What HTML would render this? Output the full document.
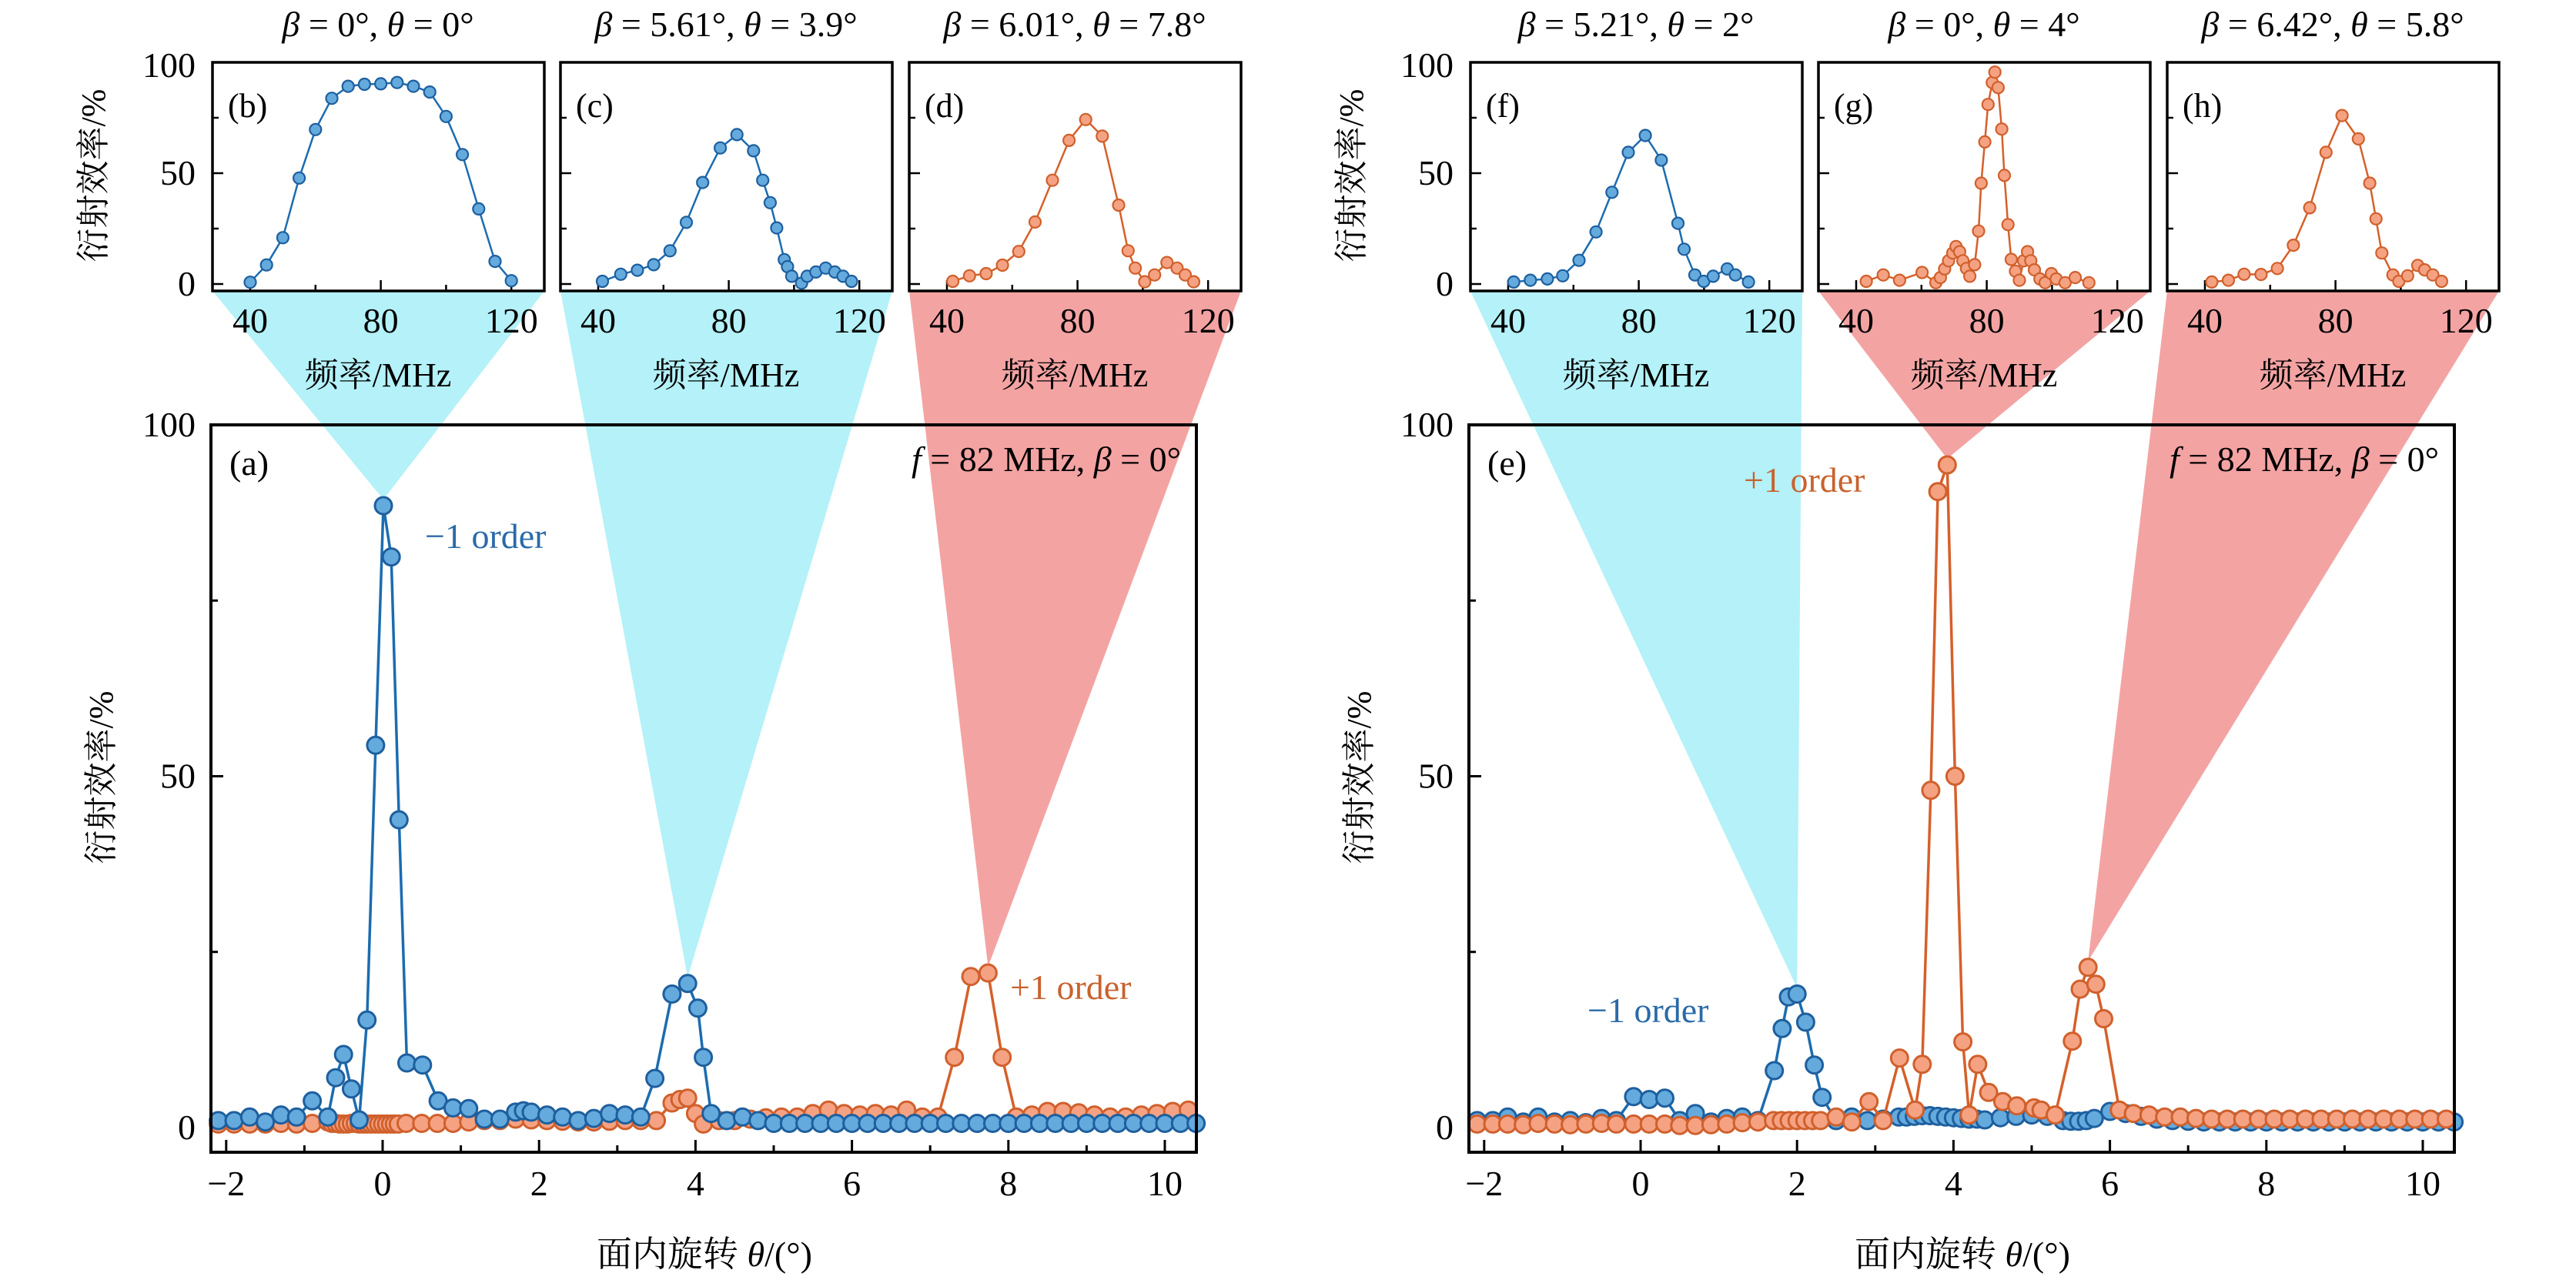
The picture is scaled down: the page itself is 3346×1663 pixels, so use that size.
<!DOCTYPE html>
<html><head><meta charset="utf-8">
<style>
html,body{margin:0;padding:0;background:#fff;}
svg{display:block;}
text{font-family:"Liberation Serif","Noto Serif CJK SC",serif;}
</style></head>
<body>
<svg id="fig" width="3346" height="1663" viewBox="0 0 3346 1663" xmlns="http://www.w3.org/2000/svg"></svg>
<script>
// ---------------- DATA ----------------
const aBlueX=[-2.1,-1.9,-1.7,-1.5,-1.3,-1.1,-0.9,-0.7,-0.6,-0.5,-0.4,-0.3,-0.2,-0.09,0.01,0.11,0.21,0.31,0.51,0.71,0.9,1.1,1.3,1.5,1.7,1.8,1.9,2.1,2.3,2.5,2.7,2.9,3.1,3.3,3.48,3.7,3.9,4.03,4.1,4.2,4.4,4.6,4.8,5.0,5.2,5.4,5.6,5.8,6.0,6.2,6.4,6.6,6.8,7.0,7.2,7.4,7.6,7.8,8.0,8.2,8.4,8.6,8.8,9.0,9.2,9.4,9.6,9.8,10.0,10.2,10.4];
const aBlueY=[1,1,1.5,0.8,1.8,1.5,3.8,1.5,7.1,10.4,5.5,1.1,15.3,54.4,88.5,81.2,43.8,9.2,8.9,3.8,2.8,2.7,1.2,1.2,2.2,2.4,2.2,1.8,1.5,1,1.3,2,1.8,1.5,7,19,20.5,17,10,2,1,1.5,1,0.6,0.6,0.6,0.6,0.6,0.6,0.6,0.6,0.6,0.6,0.6,0.6,0.6,0.6,0.6,0.6,0.6,0.6,0.6,0.6,0.6,0.6,0.6,0.6,0.6,0.6,0.6,0.6];
const aOrangeX=[-2.1,-1.9,-1.7,-1.5,-1.3,-1.1,-0.9,-0.7,-0.65,-0.6,-0.55,-0.5,-0.45,-0.4,-0.35,-0.3,-0.25,-0.2,-0.15,-0.1,-0.05,0,0.05,0.1,0.15,0.2,0.3,0.5,0.7,0.9,1.1,1.3,1.5,1.7,1.9,2.1,2.3,2.5,2.7,2.9,3.1,3.3,3.5,3.7,3.8,3.9,4.0,4.1,4.3,4.5,4.7,4.9,5.1,5.3,5.5,5.7,5.9,6.1,6.3,6.5,6.7,6.9,7.1,7.31,7.52,7.74,7.92,8.1,8.3,8.5,8.7,8.9,9.1,9.3,9.5,9.7,9.9,10.1,10.3];
const aOrangeY=[0.5,0.5,0.5,0.5,0.6,0.5,0.6,0.8,0.6,0.6,0.5,0.5,0.5,0.6,0.6,0.5,0.5,0.5,0.5,0.5,0.5,0.5,0.5,0.5,0.5,0.5,0.6,0.6,0.6,0.6,0.8,1,1,1.2,1.1,1,0.9,0.8,0.8,0.9,1,1,1,3.5,4,4.2,2,0.5,1,1,1.2,1.4,1.5,1.5,2,2.5,2,1.8,2,1.8,2.5,1.5,1.5,10,21.5,22,10,1.5,1.8,2.3,2.3,2.1,1.8,1.5,1.5,1.8,2,2.3,2.5];
const eBlueX=[-2.09,-1.89,-1.7,-1.5,-1.31,-1.1,-0.9,-0.7,-0.5,-0.31,-0.09,0.11,0.31,0.5,0.7,0.9,1.1,1.3,1.5,1.71,1.81,1.89,2.0,2.11,2.22,2.32,2.5,2.7,2.9,3.1,3.3,3.4,3.5,3.6,3.7,3.8,3.9,4.0,4.1,4.2,4.3,4.4,4.6,4.8,5.0,5.2,5.4,5.5,5.6,5.7,5.8,6.0,6.2,6.4,6.6,6.8,7.0,7.2,7.4,7.6,7.8,8.0,8.2,8.4,8.6,8.8,9.0,9.2,9.4,9.6,9.8,10.0,10.2,10.4];
const eBlueY=[1,1,1.5,0.8,1.5,0.8,1,0.7,1.3,1,4.4,4,4.2,1,2,0.8,1.3,1.5,1,8.1,14.1,18.6,19,15,8.9,4.3,1,1.5,1,1.2,1.5,1.5,1.6,1.7,1.7,1.6,1.5,1.4,1.3,1.2,1.2,1.1,1.4,1.6,1.8,1.6,1,0.9,0.9,1,1.3,2.3,2,1.6,1.2,1,0.9,0.8,0.8,0.8,0.8,0.8,0.8,0.8,0.8,0.8,0.8,0.8,0.8,0.8,0.8,0.8,0.8,0.8];
const eOrangeX=[-2.09,-1.89,-1.7,-1.5,-1.31,-1.1,-0.9,-0.7,-0.5,-0.31,-0.09,0.11,0.31,0.5,0.7,0.9,1.1,1.3,1.5,1.7,1.8,1.9,2.0,2.1,2.2,2.3,2.5,2.7,2.92,3.1,3.31,3.51,3.6,3.71,3.8,3.92,4.02,4.12,4.2,4.31,4.45,4.63,4.81,5.03,5.12,5.3,5.52,5.62,5.72,5.82,5.92,6.12,6.3,6.5,6.7,6.9,7.1,7.3,7.5,7.7,7.9,8.1,8.3,8.5,8.7,8.9,9.1,9.3,9.5,9.7,9.9,10.1,10.3];
const eOrangeY=[0.5,0.5,0.5,0.4,0.6,0.5,0.4,0.5,0.6,0.5,0.5,0.5,0.5,0.3,0.3,0.4,0.5,0.7,0.8,1,1,1,1,1,1,1,1.5,0.8,3.7,1,9.9,2.5,9,48,90.5,94.3,50,12.2,1.8,9,5,3.7,3.1,2.8,2.5,1.8,12.3,19.7,22.8,20.4,15.5,2.5,2,1.8,1.5,1.5,1.3,1.2,1.2,1.2,1.2,1.2,1.2,1.2,1.2,1.2,1.2,1.2,1.2,1.2,1.2,1.2,1.2];
const bX=[40,45,50,55,60,65,70,75,80,85,90,95,100,105,110,115,120];
const bY=[0.8,8.6,20.9,47.8,69.7,83.8,89.2,90.1,90.3,90.9,89.2,86.6,75.6,58.4,33.9,10.2,1.5];
const cX=[41.3,46.9,52,57,62,67,72,77.4,82.5,87.6,90.4,92.7,94.7,97,98,99.3,102.3,104,106.7,109.7,112.5,115,117.6];
const cY=[1.2,4.4,6.2,8.7,15,27.8,45.8,61.4,67.4,60.1,46.8,36.7,25.3,11,7.8,3.5,0.4,3.5,5.4,7.2,5.4,3.5,1.2];
const dX=[41.8,46.9,52,57,62,67,72.3,77.4,82.5,87.6,92.6,95.5,97.7,100.6,103.6,107.4,110.5,113,115.6];
const dY=[1.2,3.7,4.7,8.5,14.7,28,46.8,64.8,74.2,66.7,35.6,15,7.2,1,4.1,9.7,7.2,4.1,1];
const fX=[41.7,46.8,52,56.7,61.7,66.9,71.8,76.8,82,86.9,92,93.9,97.2,99.9,102.8,107.1,109.6,113.6];
const fY=[0.9,1.7,2.3,3.7,10.7,23.5,41.4,59.4,67,55.9,27.4,15.7,4.1,1.2,3.5,6.8,4.1,0.9];
const gX=[43.1,48.3,53.3,60.2,64.4,65.8,67.1,68.3,69.6,70.6,71.7,72.7,73.8,74.8,76.3,77.5,78.3,79.4,80.4,81.7,82.5,83.5,84.6,85.4,86.5,87.5,88.8,90,91.3,92.5,93.5,94.6,96.3,97.9,99.8,101.3,104,107.1,111.3];
const gY=[1.2,4.1,1.7,5.2,0.6,2.9,6.8,10.5,14,16.9,14.6,10.5,7,3.5,8.7,23.9,45.5,64.1,81,90.9,95.6,88.6,69.9,49,26.8,11.1,5.8,1.7,10.5,14.6,10.5,6.4,2.3,0.6,4.7,2.3,0.6,2.9,0.6];
const hX=[42.1,47.2,52,57.2,62.2,67.1,72.1,77.1,82,87,90.5,92.4,94.2,97.6,99.4,102.1,105.2,107.3,109.8,112.5];
const hY=[0.9,1.7,4.4,4.3,7,17.5,34.4,59.4,76,65.5,45.5,29.4,14,4.1,1.2,3.7,8.4,6.4,4.1,1.2];
const mainXTicks=[-2,-1,0,1,2,3,4,5,6,7,8,9,10];
const mainXTickLabels=["\u22122","","0","","2","","4","","6","","8","","10"];
const yTicks=[0,25,50,75,100];
const yTickLabels=["0","","50","","100"];
const insetXTicks=[40,60,80,100,120];
const insetXTickLabels=["40","","80","","120"];

// ---------------- HELPERS ----------------
const NS="http://www.w3.org/2000/svg";
const svg=document.getElementById('fig');
function mk(tag,attrs,parent){const e=document.createElementNS(NS,tag);for(const k in attrs)e.setAttribute(k,attrs[k]);(parent||svg).appendChild(e);return e;}
const BLUE_LINE="#1b6cb0",BLUE_FILL="#64aadd",BLUE_EDGE="#1e5f9e";
const OR_LINE="#d5602a",OR_FILL="#f5a283",OR_EDGE="#d0602c";
const BLUE_TEXT="#2a6aa8",OR_TEXT="#c8622e";
const CYAN="#b4f1f8",PINK="#f4a3a3";

function mainScales(off){
  const x0=274+off,x1=1554+off;
  return {x0,x1,y0:552,y1:1497,
    sx:v=>497+off+(v)*101.6,
    sy:v=>1465-v*9.13};
}
function insetScales(left){
  return {x0:left,x1:left+431,y0:81,y1:378,
    sx:v=>left+49+(v-40)*4.24,
    sy:v=>369-v*2.88};
}

const layerShade=mk('g',{});


const layerMain=mk('g',{});



function drawSeries(g,sc,xs,ys,lineC,fillC,edgeC,r,lw,name){
  const sg=mk('g',{},g);
  
  
  let d='';
  for(let i=0;i<xs.length;i++){d+=(i?'L':'M')+sc.sx(xs[i]).toFixed(1)+' '+sc.sy(ys[i]).toFixed(1);}
  const p=mk('path',{d:d,fill:'none',stroke:lineC,'stroke-width':lw,'stroke-linejoin':'round'},sg);
  
  
  for(let i=0;i<xs.length;i++){
    const c=mk('circle',{cx:sc.sx(xs[i]).toFixed(1),cy:sc.sy(ys[i]).toFixed(1),r:r,fill:fillC,stroke:edgeC,'stroke-width':r>8?3:2.2},sg);
    
    
  }
}

function drawMain(off,label,series,ann,name){
  const sc=mainScales(off);
  const g=mk('g',{},layerMain);
  
  
  mainXTicks.forEach((t,i)=>{
    const x=sc.sx(t);const major=mainXTickLabels[i]!=='';
    const tk=mk('line',{x1:x,x2:x,y1:sc.y1,y2:sc.y1-(major?16:9),stroke:'#000','stroke-width':3},g);
    
    
    if(major){const tl=mk('text',{x:x,y:1553,'font-size':46,'text-anchor':'middle',fill:'#000'},g);tl.textContent=mainXTickLabels[i];
      
      }
  });
  yTicks.forEach((t,i)=>{
    const y=sc.sy(t);const major=yTickLabels[i]!=='';
    const tk=mk('line',{x1:sc.x0,x2:sc.x0+(major?16:9),y1:y,y2:y,stroke:'#000','stroke-width':3},g);
    
    
    if(major){const tl=mk('text',{x:sc.x0-20,y:(t===100?552:y)+15,'font-size':46,'text-anchor':'end',fill:'#000'},g);tl.textContent=yTickLabels[i];
      
      }
  });
  series.forEach(s=>drawSeries(g,sc,s[0],s[1],s[2],s[3],s[4],11,3.5,s[5]));
  const fr=mk('rect',{x:sc.x0,y:sc.y0,width:sc.x1-sc.x0,height:sc.y1-sc.y0,fill:'none',stroke:'#000','stroke-width':4},g);
  
  
  const pl=mk('text',{x:sc.x0+24,y:617,'font-size':46,fill:'#000'},g);pl.textContent=label;
  
  
  const cond=mk('text',{x:sc.x1-20,y:612,'font-size':46,'text-anchor':'end',fill:'#000'},g);
  cond.innerHTML='<tspan font-style="italic">f</tspan> = 82 MHz, <tspan font-style="italic">β</tspan> = 0°';
  
  
  ann.forEach(a=>{const t=mk('text',{x:a[0],y:a[1],'font-size':46,fill:a[3],style:'fill:'+a[3]},g);t.textContent=a[2];
    
    });
  const yl=mk('text',{x:0,y:0,'font-size':44,'text-anchor':'middle',fill:'#000',transform:'translate('+(146+off)+',1010) rotate(-90)'},g);
  yl.textContent='衍射效率/%';
  
  
  const xl=mk('text',{x:915+off,y:1645,'font-size':46,'text-anchor':'middle',fill:'#000'},g);
  xl.innerHTML='面内旋转 <tspan font-style="italic">θ</tspan>/(°)';
  
  
  return sc;
}

function drawInset(left,label,title,xs,ys,isBlue,withYLabel,name){
  const sc=insetScales(left);
  const g=mk('g',{},layerMain);
  
  
  insetXTicks.forEach((t,i)=>{
    const x=sc.sx(t);const major=insetXTickLabels[i]!=='';
    const tk=mk('line',{x1:x,x2:x,y1:sc.y1,y2:sc.y1-(major?14:8),stroke:'#000','stroke-width':2.5},g);
    
    
    if(major){const tl=mk('text',{x:x,y:432,'font-size':46,'text-anchor':'middle',fill:'#000'},g);tl.textContent=insetXTickLabels[i];
      
      }
  });
  yTicks.forEach((t,i)=>{
    const y=sc.sy(t);const major=yTickLabels[i]!=='';
    const tk=mk('line',{x1:sc.x0,x2:sc.x0+(major?14:8),y1:y,y2:y,stroke:'#000','stroke-width':2.5},g);
    
    
    if(withYLabel&&major){const tl=mk('text',{x:sc.x0-22,y:(t===100?85:y)+15,'font-size':46,'text-anchor':'end',fill:'#000'},g);tl.textContent=yTickLabels[i];
      
      }
  });
  drawSeries(g,sc,xs,ys,isBlue?BLUE_LINE:OR_LINE,isBlue?BLUE_FILL:OR_FILL,isBlue?BLUE_EDGE:OR_EDGE,7.5,2.5,name+'-series');
  const fr=mk('rect',{x:sc.x0,y:sc.y0,width:sc.x1-sc.x0,height:sc.y1-sc.y0,fill:'none',stroke:'#000','stroke-width':3.5},g);
  
  
  const pl=mk('text',{x:sc.x0+20,y:152,'font-size':44,fill:'#000'},g);pl.textContent=label;
  
  
  const tt=mk('text',{x:sc.x0+215,y:47,'font-size':46,'text-anchor':'middle',fill:'#000'},g);
  tt.innerHTML=title;
  
  
  const xl=mk('text',{x:sc.x0+215,y:502,'font-size':44,'text-anchor':'middle',fill:'#000'},g);
  xl.textContent='频率/MHz';
  
  
  if(withYLabel){
    const yl=mk('text',{x:0,y:0,'font-size':44,'text-anchor':'middle',fill:'#000',transform:'translate('+(sc.x0-140)+',228) rotate(-90)'},g);
    yl.textContent='衍射效率/%';
    
    
  }
  return sc;
}

function shade(inset,main,ax,ay,color,name){
  const p=mk('polygon',{points:[inset.x0,inset.y1,inset.x1,inset.y1,main.sx(ax),main.sy(ay)-8].join(' '),fill:color},layerShade);
  
  
}

// ---------------- BUILD ----------------
const mA=drawMain(0,'(a)',[
  [aOrangeX,aOrangeY,OR_LINE,OR_FILL,OR_EDGE,'plus1-order-series-a'],
  [aBlueX,aBlueY,BLUE_LINE,BLUE_FILL,BLUE_EDGE,'minus1-order-series-a']],
  [[552,712,'\u22121 order',BLUE_TEXT],[1312,1298,'+1 order',OR_TEXT]],'panel-a');
const mE=drawMain(1634,'(e)',[
  [eBlueX,eBlueY,BLUE_LINE,BLUE_FILL,BLUE_EDGE,'minus1-order-series-e'],
  [eOrangeX,eOrangeY,OR_LINE,OR_FILL,OR_EDGE,'plus1-order-series-e']],
  [[2062,1328,'\u22121 order',BLUE_TEXT],[2265,639,'+1 order',OR_TEXT]],'panel-e');

const iB=drawInset(276,'(b)','<tspan font-style="italic">β</tspan> = 0°, <tspan font-style="italic">θ</tspan> = 0°',bX,bY,true,true,'inset-b');
const iC=drawInset(728,'(c)','<tspan font-style="italic">β</tspan> = 5.61°, <tspan font-style="italic">θ</tspan> = 3.9°',cX,cY,true,false,'inset-c');
const iD=drawInset(1181,'(d)','<tspan font-style="italic">β</tspan> = 6.01°, <tspan font-style="italic">θ</tspan> = 7.8°',dX,dY,false,false,'inset-d');
const iF=drawInset(1910,'(f)','<tspan font-style="italic">β</tspan> = 5.21°, <tspan font-style="italic">θ</tspan> = 2°',fX,fY,true,true,'inset-f');
const iG=drawInset(2362,'(g)','<tspan font-style="italic">β</tspan> = 0°, <tspan font-style="italic">θ</tspan> = 4°',gX,gY,false,false,'inset-g');
const iH=drawInset(2815,'(h)','<tspan font-style="italic">β</tspan> = 6.42°, <tspan font-style="italic">θ</tspan> = 5.8°',hX,hY,false,false,'inset-h');

shade(iB,mA,0.01,88.5,CYAN,'shade-b');
shade(iC,mA,3.9,20.5,CYAN,'shade-c');
shade(iD,mA,7.74,22,PINK,'shade-d');
shade(iF,mE,2.0,19,CYAN,'shade-f');
shade(iG,mE,3.92,94.3,PINK,'shade-g');
shade(iH,mE,5.72,22.8,PINK,'shade-h');
</script>
</body></html>
